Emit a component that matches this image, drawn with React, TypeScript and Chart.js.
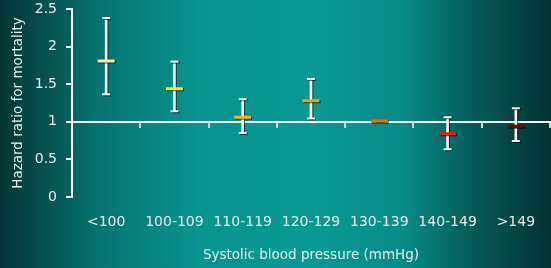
import React, { useEffect, useRef } from "react";
import { Chart, registerables } from "chart.js";

Chart.register(...registerables);

const categories = ["<100", "100-109", "110-119", "120-129", "130-139", "140-149", ">149"];
const hazardRatio = [1.81, 1.44, 1.06, 1.28, 1.01, 0.84, 0.94];
const lowerCI = [1.365, 1.14, 0.85, 1.045, 1.01, 0.635, 0.745];
const upperCI = [2.38, 1.8, 1.3, 1.57, 1.01, 1.06, 1.18];
const markerColors = ["#f4f0a0", "#f0f000", "#f0c000", "#f0a000", "#f07000", "#ff1010", "#800000"];
const yTicks = [0, 0.5, 1, 1.5, 2, 2.5];

const FONT = "'DejaVu Sans', sans-serif";
const TEXT = "#e6eeee";

export default function App() {
  const ref = useRef<HTMLCanvasElement | null>(null);
  useEffect(() => {
    if (!ref.current) return;
    const bgPlugin = {
      id: "bg",
      beforeDraw(chart: any) {
        const { ctx, width, height } = chart;
        const g = ctx.createLinearGradient(0, 0, width, 0);
        g.addColorStop(0, "#033533");
        g.addColorStop(0.18, "#067470");
        g.addColorStop(0.36, "#08948f");
        g.addColorStop(0.58, "#099893");
        g.addColorStop(0.73, "#078c87");
        g.addColorStop(0.86, "#055a57");
        g.addColorStop(1, "#023230");
        ctx.save();
        ctx.fillStyle = g;
        ctx.fillRect(0, 0, width, height);
        ctx.restore();
      },
      beforeDatasetsDraw(chart: any) {
        const ctx = chart.ctx;
        ctx.save();
        ctx.shadowColor = "rgba(0,0,0,0.6)";
        ctx.shadowOffsetX = 1;
        ctx.shadowOffsetY = 1;
        ctx.shadowBlur = 0;
      },
      afterDatasetsDraw(chart: any) {
        chart.ctx.restore();
      },
    };
    const chart = new Chart(ref.current, {
      type: "bar",
      data: {
        labels: categories,
        datasets: [
          {
            type: "bar",
            data: categories.map((_, i) => [lowerCI[i], upperCI[i]]) as any,
            backgroundColor: "#f4f8f8",
            borderWidth: 0,
            barThickness: 2,
            order: 3,
          } as any,
          {
            type: "line",
            data: upperCI,
            showLine: false,
            pointStyle: "line",
            pointRadius: 4,
            pointBorderWidth: 2,
            pointBorderColor: "#f4f8f8",
            order: 2,
          } as any,
          {
            type: "line",
            data: lowerCI,
            showLine: false,
            pointStyle: "line",
            pointRadius: 4,
            pointBorderWidth: 2,
            pointBorderColor: "#f4f8f8",
            order: 2,
          } as any,
          {
            type: "line",
            data: hazardRatio,
            showLine: false,
            pointStyle: "line",
            pointRadius: 8.5,
            pointBorderWidth: 3,
            pointBorderColor: markerColors,
            order: 1,
          } as any,
        ],
      },
      options: {
        responsive: false,
        animation: false,
        layout: { autoPadding: false, padding: { top: 9, right: 1, left: 0, bottom: 0 } },
        plugins: { legend: { display: false }, tooltip: { enabled: false } },
        scales: {
          x: {
            type: "category",
            offset: true,
            grid: { display: false, drawTicks: false },
            border: { display: false },
            ticks: { color: TEXT, font: { family: FONT, size: 14 }, padding: 17, maxRotation: 0, autoSkip: false },
            title: {
              display: true,
              text: "Systolic blood pressure (mmHg)",
              color: TEXT,
              font: { family: FONT, size: 13.5 },
              padding: { top: 0, bottom: 4 },
            },
            afterFit(scale: any) {
              scale.height = 71;
              scale.paddingLeft = 0;
              scale.paddingRight = 0;
            },
          },
          x2: {
            type: "category",
            labels: categories,
            position: { y: 1 } as any,
            offset: true,
            grid: { offset: true, drawOnChartArea: false, drawTicks: true, tickLength: 5, color: "#c8d8d8", lineWidth: 2 },
            border: { display: true, color: "#f4f8f8", width: 2 },
            ticks: { display: false },
            afterFit(scale: any) {
              scale.paddingLeft = 0;
              scale.paddingRight = 0;
            },
          } as any,
          y: {
            min: 0,
            max: 2.5,
            afterBuildTicks(scale: any) {
              scale.ticks = yTicks.map((v) => ({ value: v }));
            },
            ticks: {
              color: TEXT,
              font: { family: FONT, size: 14 },
              padding: 9,
              callback: (v: any) => String(v),
            },
            grid: { drawOnChartArea: false, drawTicks: true, tickLength: 6, color: "#f4f8f8", lineWidth: 2 },
            border: { display: true, color: "#f4f8f8", width: 2 },
            title: {
              display: true,
              text: "Hazard ratio for mortality",
              color: TEXT,
              font: { family: FONT, size: 13.5 },
              padding: { top: 10, bottom: 0 },
            },
            afterFit(scale: any) {
              scale.width = 72;
              scale.paddingTop = 0;
              scale.paddingBottom = 0;
            },
          },
        },
      },
      plugins: [bgPlugin],
    });
    return () => chart.destroy();
  }, []);
  return (
    <div style={{ position: "fixed", left: 0, top: 0, width: 551, height: 268 }}>
      <canvas ref={ref} width={551} height={268} style={{ display: "block" }} />
    </div>
  );
}
